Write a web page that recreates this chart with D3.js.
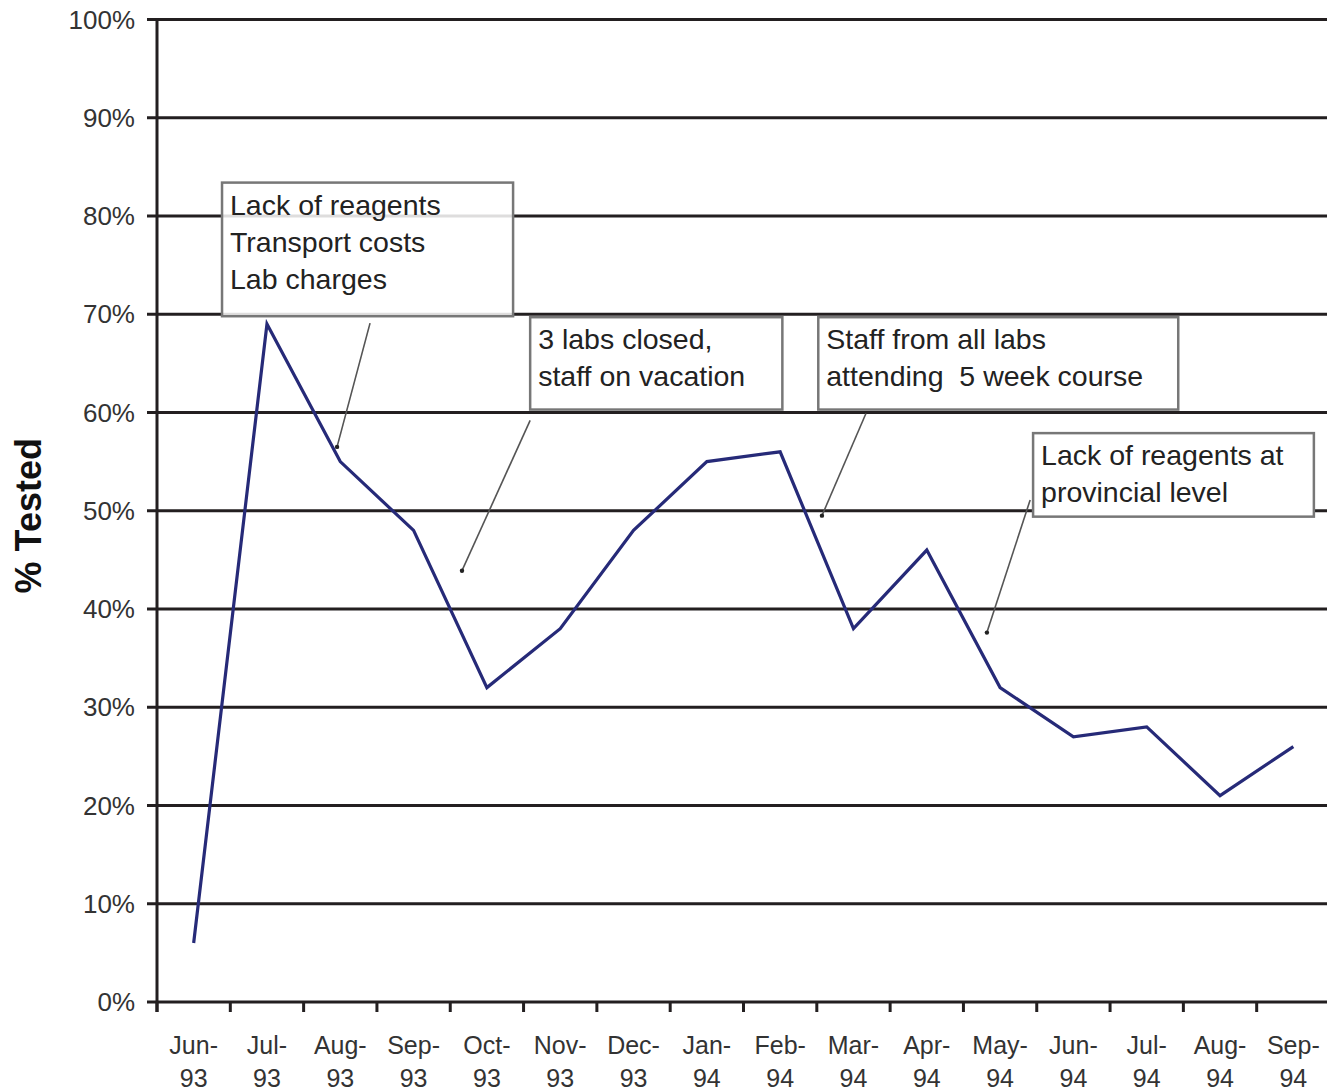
<!DOCTYPE html>
<html>
<head>
<meta charset="utf-8">
<script src="https://cdn.jsdelivr.net/npm/d3@7"></script>
<style>
  html, body { margin: 0; padding: 0; background: #fff; }
  svg { display: block; font-family: "Liberation Sans", Arial, sans-serif; }
</style>
</head>
<body>
<svg id="chart" width="1327" height="1092"></svg>
<script>
// ---- data ----
const months = ["Jun-93","Jul-93","Aug-93","Sep-93","Oct-93","Nov-93","Dec-93","Jan-94",
                "Feb-94","Mar-94","Apr-94","May-94","Jun-94","Jul-94","Aug-94","Sep-94"];
const monthLabels = ["Jun-","Jul-","Aug-","Sep-","Oct-","Nov-","Dec-","Jan-",
                     "Feb-","Mar-","Apr-","May-","Jun-","Jul-","Aug-","Sep-"];
const yearLabels = ["93","93","93","93","93","93","93","94","94","94","94","94","94","94","94","94"];
const pctTested = [6, 69, 55, 48, 32, 38, 48, 55, 56, 38, 46, 32, 27, 28, 21, 26];
const yTicks = [0,10,20,30,40,50,60,70,80,90,100];
const yTitle = "% Tested";

// annotation text lines
const noteTexts = [
  ["Lack of reagents","Transport costs","Lab charges"],
  ["3 labs closed,","staff on vacation"],
  ["Staff from all labs","attending  5 week course"],
  ["Lack of reagents at","provincial level"]
];
// annotation boxes in data space: [x0, x1] in category units, [yTop, yBottom] in %
const noteBoxX = [[0.887, 4.857],[5.09, 8.53],[9.02, 13.93],[11.95, 15.78]];
const noteBoxY = [[83.4, 69.8],[69.7, 60.3],[69.7, 60.3],[57.9, 49.4]];
// leader lines: [xStart, yStart, xEnd, yEnd] in category units / %
const noteLeaders = [[2.906, 69.1, 2.456, 56.5],[5.09, 59.2, 4.16, 43.9],
                     [9.67, 59.9, 9.07, 49.5],[11.91, 51.1, 11.32, 37.6]];

// ---- layout ----
const svg = d3.select("#chart");
const pLeft = 157, pRight = 1330, pTop = 19.5, pBottom = 1002;

const x = d3.scaleBand().domain(months).range([pLeft, pRight]).padding(0);
const xPos = d3.scaleLinear().domain([0, months.length]).range([pLeft, pRight]);
const y = d3.scaleLinear().domain([0, 100]).range([pBottom, pTop]);

// gridlines + y ticks
svg.append("g").selectAll("line").data(yTicks).join("line")
  .attr("x1", pLeft - 10).attr("x2", 1327)
  .attr("y1", d => y(d)).attr("y2", d => y(d))
  .attr("stroke", "#231f20").attr("stroke-width", 3);

// y tick labels
svg.append("g").selectAll("text").data(yTicks).join("text")
  .attr("x", 135).attr("y", d => y(d) + 9)
  .attr("text-anchor", "end")
  .attr("font-size", 26).attr("fill", "#333")
  .text(d => d + "%");

// y axis line
svg.append("line")
  .attr("x1", pLeft).attr("x2", pLeft).attr("y1", pTop - 1.5).attr("y2", pBottom + 10)
  .attr("stroke", "#231f20").attr("stroke-width", 3);

// x ticks at band boundaries
const tickXs = months.map(m => x(m)).concat([x(months[months.length - 1]) + x.bandwidth()]);
svg.append("g").selectAll("line").data(tickXs).join("line")
  .attr("x1", d => d).attr("x2", d => d)
  .attr("y1", pBottom).attr("y2", pBottom + 10)
  .attr("stroke", "#231f20").attr("stroke-width", 3);

// x labels
const xl = svg.append("g");
xl.selectAll("text.m").data(months).join("text").attr("class", "m")
  .attr("x", d => x(d) + x.bandwidth() / 2).attr("y", 1054)
  .attr("text-anchor", "middle").attr("font-size", 25).attr("fill", "#333")
  .text((d, i) => monthLabels[i]);
xl.selectAll("text.y").data(months).join("text").attr("class", "y")
  .attr("x", d => x(d) + x.bandwidth() / 2).attr("y", 1087)
  .attr("text-anchor", "middle").attr("font-size", 25).attr("fill", "#333")
  .text((d, i) => yearLabels[i]);

// y title
svg.append("text")
  .attr("transform", `translate(41, ${(y(0) + y(100)) / 2 + 5}) rotate(-90)`)
  .attr("text-anchor", "middle").attr("font-size", 36).attr("font-weight", "bold")
  .attr("fill", "#111")
  .text(yTitle);

// data line
const line = d3.line()
  .x((d, i) => x(months[i]) + x.bandwidth() / 2)
  .y(d => y(d));
svg.append("path").datum(pctTested)
  .attr("d", line)
  .attr("fill", "none").attr("stroke", "#262a78").attr("stroke-width", 3.2)
  .attr("stroke-linejoin", "miter");

// annotations
const notes = svg.append("g");
noteTexts.forEach((lines, k) => {
  const [bx0, bx1] = noteBoxX[k];
  const [byT, byB] = noteBoxY[k];
  const rx = xPos(bx0), ry = y(byT), rw = xPos(bx1) - xPos(bx0), rh = y(byB) - y(byT);
  notes.append("rect")
    .attr("x", rx).attr("y", ry).attr("width", rw).attr("height", rh)
    .attr("fill", "#fff").attr("fill-opacity", k === 0 ? 0.85 : 1)
    .attr("stroke", "#777").attr("stroke-width", 2.5);
  lines.forEach((t, j) => {
    notes.append("text")
      .attr("x", rx + 8).attr("y", ry + 32 + j * 37)
      .attr("font-size", 28.5).attr("fill", "#222")
      .attr("xml:space", "preserve").style("white-space", "pre")
      .text(t);
  });
  const [lx0, ly0, lx1, ly1] = noteLeaders[k];
  notes.append("line")
    .attr("x1", xPos(lx0)).attr("y1", y(ly0))
    .attr("x2", xPos(lx1)).attr("y2", y(ly1))
    .attr("stroke", "#555").attr("stroke-width", 1.6);
  notes.append("circle")
    .attr("cx", xPos(lx1)).attr("cy", y(ly1)).attr("r", 2.2)
    .attr("fill", "#222");
});
</script>
</body>
</html>
